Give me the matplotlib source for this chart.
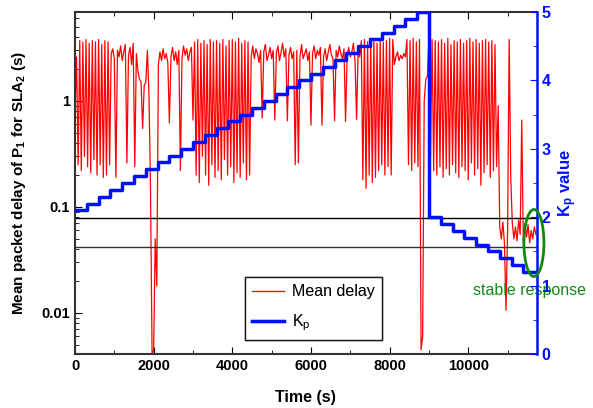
import numpy as np
import matplotlib
matplotlib.use("Agg")
import matplotlib.pyplot as plt
from matplotlib.patches import Ellipse
from matplotlib.ticker import FixedLocator, NullFormatter, LogLocator, MultipleLocator

plt.rcParams['font.family'] = ['Liberation Sans', 'DejaVu Sans']
plt.rcParams['mathtext.fontset'] = 'custom'
plt.rcParams['mathtext.rm'] = 'Liberation Sans'
plt.rcParams['mathtext.bf'] = 'Liberation Sans:bold'
plt.rcParams['mathtext.it'] = 'Liberation Sans:italic'

# ---- data ----
sample_interval = 40  # seconds between samples of mean delay
mean_delay = [
    0.75, 2.6, 0.25, 3.7, 0.22, 3.6, 0.3, 3.8, 0.24, 3.5,
    0.21, 3.7, 0.28, 3.6, 0.2, 3.8, 0.25, 3.4, 0.19, 3.7,
    0.2, 3.6, 0.25, 2.8, 3.1, 2.5, 0.19, 3.0, 2.6, 3.3,
    2.4, 2.9, 3.4, 0.26, 2.7, 3.2, 2.2, 3.5, 0.24, 2.8,
    1.9, 1.6, 1.5, 0.55, 1.4, 1.5, 3.0, 1.2, 0.15, 0.004,
    0.0045, 0.05, 0.018, 2.2, 2.9, 2.4, 3.1, 2.5, 2.8, 2.3,
    0.62, 2.6, 3.2, 2.4, 2.9, 2.2, 3.0, 0.22, 2.5, 3.3,
    2.7, 3.1, 2.4, 2.9, 3.2, 0.66, 3.6, 0.2, 3.8, 0.17,
    3.5, 0.3, 3.7, 0.2, 3.4, 0.16, 3.8, 0.25, 3.6, 0.19,
    3.7, 0.22, 3.5, 0.18, 3.8, 0.28, 3.3, 0.2, 3.7, 0.24,
    3.8, 0.17, 3.6, 0.21, 3.9, 0.19, 3.5, 0.26, 3.7, 0.18,
    3.6, 0.2, 2.6, 3.3, 2.5, 3.1, 2.8, 2.3, 3.0, 0.69,
    2.9, 3.4, 2.4, 2.7, 3.2, 2.5, 3.0, 0.66, 2.8, 3.3,
    2.4, 2.9, 3.5, 2.6, 3.1, 0.65, 2.7, 3.2, 2.5, 2.9,
    0.25, 3.0, 0.26, 2.6, 3.4, 2.5, 2.8, 3.1, 2.4, 2.9,
    0.59, 2.8, 3.3, 2.5, 3.0, 2.7, 3.2, 0.59, 2.6, 3.1,
    2.4, 2.9, 3.4, 2.7, 2.5, 0.65, 3.0, 2.6, 3.3, 2.8,
    2.5, 3.1, 0.64, 2.7, 3.2, 2.6, 2.9, 3.5, 2.4, 0.67,
    3.0, 2.6, 3.7, 0.18, 3.8, 0.15, 3.6, 0.2, 3.9, 0.17,
    3.7, 0.19, 3.5, 0.22, 3.8, 0.25, 3.6, 0.2, 3.7, 0.24,
    3.9, 0.2, 3.8, 2.2, 2.6, 2.9, 2.4, 2.7, 2.5, 2.8,
    2.6, 3.8, 0.25, 3.7, 0.22, 3.9, 0.26, 3.6, 0.24, 3.8,
    0.0045, 0.006, 1.0, 1.6, 1.7, 3.9, 0.3, 3.8, 0.22, 3.7,
    0.2, 3.6, 0.24, 3.8, 0.19, 3.5, 0.23, 3.9, 0.2, 3.4,
    0.25, 3.7, 0.21, 3.6, 0.19, 3.8, 0.24, 3.5, 0.22, 3.7,
    0.18, 3.9, 0.26, 3.6, 0.2, 3.8, 0.23, 3.5, 0.16, 3.7,
    0.21, 3.8, 0.25, 3.6, 0.19, 3.7, 0.22, 3.4, 0.24, 0.9,
    0.065, 0.05, 0.072, 0.045, 0.0106, 0.06, 3.8, 0.19, 0.07, 0.05,
    0.065, 0.048, 0.075, 0.055, 0.66, 0.045, 0.07, 0.052, 0.068, 0.046,
    0.06, 0.05, 0.065, 0.055,
]
time_s = np.arange(len(mean_delay)) * sample_interval

kp_times = [0, 300, 600, 900, 1200, 1500, 1800, 2100, 2400, 2700,
            3000, 3300, 3600, 3900, 4200, 4500, 4800, 5100, 5400, 5700,
            6000, 6300, 6600, 6900, 7200, 7500, 7800, 8100, 8400, 8700,
            9000, 9300, 9600, 9900, 10200, 10500, 10800, 11100, 11400, 11740]
kp_values = [2.1, 2.2, 2.3, 2.4, 2.5, 2.6, 2.7, 2.8, 2.9, 3.0,
             3.1, 3.2, 3.3, 3.4, 3.5, 3.6, 3.7, 3.8, 3.9, 4.0,
             4.1, 4.2, 4.3, 4.4, 4.5, 4.6, 4.7, 4.8, 4.9, 5.0,
             2.0, 1.9, 1.8, 1.7, 1.6, 1.5, 1.4, 1.3, 1.2, 1.2]

upper_bound = 0.078
lower_bound = 0.042

x_ticks = [0, 2000, 4000, 6000, 8000, 10000]
y_ticks = [0.01, 0.1, 1]
y_tick_labels = ["0.01", "0.1", "1"]
kp_ticks = [0, 1, 2, 3, 4, 5]

BLUE = '#0010ff'
GREEN = '#108a10'

# ---- figure ----
fig = plt.figure(figsize=(5.93, 4.08), dpi=100)
ax = fig.add_axes([75/593, 54/408, 461.7/593, 342/408])

red_line, = ax.plot(time_s, mean_delay, color='red', lw=0.9, label='Mean delay')
ax.axhline(upper_bound, color='black', lw=1.0)
ax.axhline(lower_bound, color='#333333', lw=1.0)
ax.set_yscale('log')
ax.set_xlim(0, 11740)
ax.set_ylim(0.0041, 6.9)
ax.set_xticks(x_ticks)
ax.xaxis.set_minor_locator(MultipleLocator(1000))
ax.set_xticklabels([str(v) for v in x_ticks], fontweight='bold', fontsize=10.5)
ax.yaxis.set_major_locator(FixedLocator(y_ticks))
ax.set_yticklabels(y_tick_labels, fontweight='bold', fontsize=10.5)
ax.yaxis.set_minor_locator(LogLocator(base=10, subs=np.arange(2, 10)))
ax.yaxis.set_minor_formatter(NullFormatter())
ax.tick_params(which='both', direction='in', top=True, right=False)
ax.tick_params(which='major', length=5)
ax.tick_params(which='minor', length=3)
ax.set_xlabel('Time (s)', fontweight='bold', fontsize=11.5, labelpad=12)
ax.set_ylabel('Mean packet delay of P$_\\mathbf{1}$ for SLA$_\\mathbf{2}$ (s)',
              fontweight='bold', fontsize=11, labelpad=10)
for s in ['left', 'bottom', 'top']:
    ax.spines[s].set_color('#333333')
    ax.spines[s].set_linewidth(1.5)
ax.spines['right'].set_visible(False)

ax2 = ax.twinx()
blue_line, = ax2.plot(kp_times, kp_values, drawstyle='steps-post', color=BLUE,
                      lw=2.5, label='K$_\\mathrm{p}$')
ax2.set_ylim(0, 5)
ax2.set_yticks(kp_ticks)
ax2.yaxis.set_minor_locator(MultipleLocator(0.5))
ax2.set_yticklabels([str(v) for v in kp_ticks], fontweight='bold', fontsize=11.5, color=BLUE)
ax2.tick_params(which='both', direction='in', colors=BLUE)
ax2.tick_params(which='major', length=5)
ax2.tick_params(which='minor', length=3)
ax2.spines['right'].set_color(BLUE)
ax2.spines['right'].set_linewidth(1.8)
for s in ['left', 'bottom', 'top']:
    ax2.spines[s].set_visible(False)
ax2.set_ylabel('K$_\\mathbf{p}$ value', fontweight='bold', fontsize=12, color=BLUE, labelpad=4)

leg = ax.legend(handles=[red_line, blue_line], loc='lower left',
                bbox_to_anchor=(170/461.7, 14/342), borderaxespad=0,
                fancybox=False, frameon=True,
                edgecolor='black', fontsize=11.5, handlelength=2.0, borderpad=0.45,
                labelspacing=0.8, handletextpad=0.5)
leg.get_frame().set_linewidth(1.0)
ax.add_artist(leg)

ell = Ellipse((0.994, (354-243)/342), 20/461.7, 67/342, transform=ax.transAxes,
              fill=False, edgecolor=GREEN, lw=2, clip_on=False, zorder=10)
ax2.add_patch(ell)
ax.text(0.985, (354-291)/342, 'stable response', transform=ax.transAxes,
        color=GREEN, fontsize=11.5, ha='center', va='center', clip_on=False)

fig.savefig('out.png', dpi=100)
